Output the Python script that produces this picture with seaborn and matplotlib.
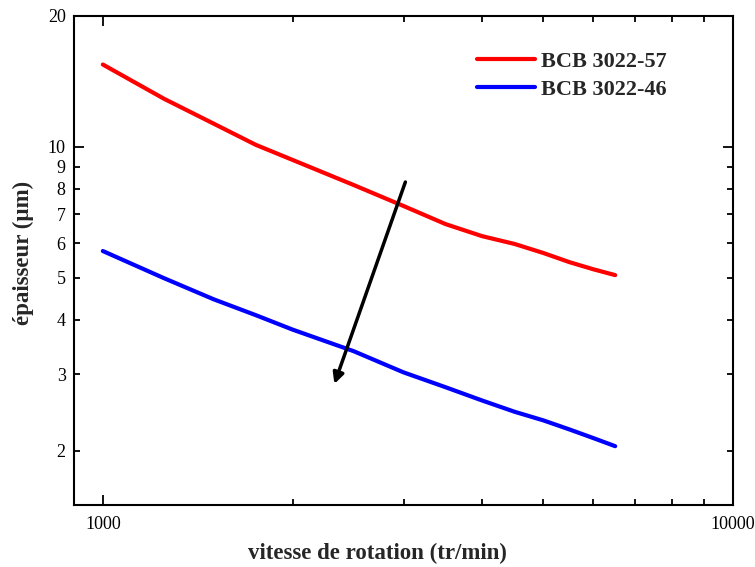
import numpy as np
import pandas as pd
import matplotlib
matplotlib.use("Agg")
import matplotlib.pyplot as plt
from matplotlib.ticker import NullFormatter, FixedLocator, FixedFormatter
import seaborn as sns

# Spin speed (tr/min) and film thickness (µm) for the two resins
speed = [1000, 1250, 1500, 1750, 2000, 2500, 3000, 3500, 4000, 4500, 5000, 5500, 6000, 6500]
thick_57 = [15.46, 12.9, 11.3, 10.1, 9.33, 8.17, 7.31, 6.64, 6.23, 5.98, 5.70, 5.43, 5.23, 5.07]
thick_46 = [5.76, 4.99, 4.46, 4.10, 3.80, 3.39, 3.03, 2.80, 2.61, 2.46, 2.35, 2.24, 2.14, 2.05]
series_names = ["BCB 3022-57", "BCB 3022-46"]
series_colors = ["#ff0000", "#0000ff"]

y_tick_vals = [2, 3, 4, 5, 6, 7, 8, 9, 10, 20]
x_tick_labels = ["1000", "10000"]

df = pd.concat([
    pd.DataFrame({"speed": speed, "thickness": thick_57, "resin": series_names[0]}),
    pd.DataFrame({"speed": speed, "thickness": thick_46, "resin": series_names[1]}),
])

sns.set_theme(style="ticks")
plt.rcParams["font.family"] = ["Liberation Serif", "DejaVu Serif"]

fig = plt.figure(figsize=(7.55, 5.67), dpi=100)
ax = fig.add_axes([0.098, 0.109, 0.873, 0.863])

sns.lineplot(data=df, x="speed", y="thickness", hue="resin",
             palette=dict(zip(series_names, series_colors)),
             linewidth=3.0, ax=ax, sort=False)

ax.set_xscale("log")
ax.set_yscale("log")
ax.set_xlim(900, 10000)
ax.set_ylim(1.5, 20)

# x ticks: decades labelled, intermediate minors unlabelled
ax.xaxis.set_major_locator(FixedLocator([1000, 10000]))
ax.xaxis.set_major_formatter(FixedFormatter(x_tick_labels))
ax.xaxis.set_minor_locator(FixedLocator([2000, 3000, 4000, 5000, 6000, 7000, 8000, 9000]))
ax.xaxis.set_minor_formatter(NullFormatter())

# y ticks: every integer labelled
ax.yaxis.set_major_locator(FixedLocator([10]))
ax.yaxis.set_major_formatter(FixedFormatter(["10"]))
minor_y = [v for v in y_tick_vals if v != 10]
ax.yaxis.set_minor_locator(FixedLocator(minor_y))
ax.yaxis.set_minor_formatter(FixedFormatter([str(v) for v in minor_y]))

ax.tick_params(which="both", direction="in", top=True, right=True,
               width=1.3, colors="black", labelsize=13, pad=6)
ax.tick_params(which="major", length=7.5)
ax.tick_params(which="minor", length=4)
ax.tick_params(axis="x", which="major", pad=8)

for sp in ax.spines.values():
    sp.set_linewidth(1.5)
    sp.set_color("black")

ax.set_xlabel("vitesse de rotation (tr/min)", fontsize=16.5, fontweight="bold")
ax.set_ylabel("épaisseur (µm)", fontsize=16.5, fontweight="bold")
ax.xaxis.set_label_coords(0.461, -0.078)
ax.yaxis.set_label_coords(-0.060, 0.515)

leg = ax.legend(loc="upper right", frameon=False,
                prop={"weight": "bold", "size": 16}, handlelength=2.6,
                handletextpad=0.3, labelspacing=0.35,
                bbox_to_anchor=(0.93, 0.969))
for line in leg.get_lines():
    line.set_linewidth(3.0)

# trend arrow across both curves
ax.annotate("", xy=(2330, 2.85), xytext=(3020, 8.3),
            arrowprops=dict(arrowstyle="-|>", color="black", lw=2.5,
                            mutation_scale=16, shrinkA=0, shrinkB=0))

fig.savefig("out.png", dpi=100)
